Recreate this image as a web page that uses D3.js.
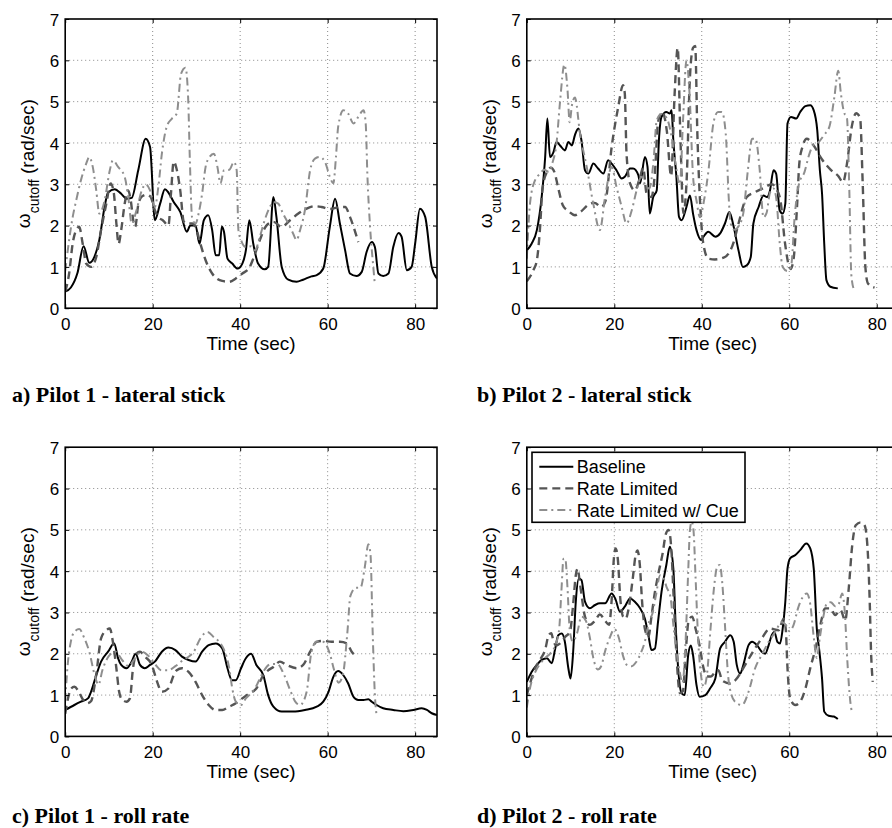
<!DOCTYPE html>
<html>
<head>
<meta charset="utf-8">
<script src="https://cdn.jsdelivr.net/npm/d3@7/dist/d3.min.js"></script>
<style>
  html, body { margin: 0; padding: 0; background: #fff; }
  svg { display: block; }
  .tick text { font-family: "Liberation Sans", Arial, Helvetica, sans-serif; font-size: 17px; fill: #000; }
</style>
</head>
<body>
<svg id="fig" width="892" height="828"></svg>
<script>
// ---- axis values ----
const timeTicks = [0, 20, 40, 60, 80];
const cutoffTicks = [0, 1, 2, 3, 4, 5, 6, 7];
const timeDomain = [0, 85];
const cutoffDomain = [0, 7];
const seriesNames = ["Baseline", "Rate Limited", "Rate Limited w/ Cue"];
const captions = ["a) Pilot 1 - lateral stick", "b) Pilot 2 - lateral stick",
                  "c) Pilot 1 - roll rate", "d) Pilot 2 - roll rate"];

// ---- Pilot 1, lateral stick: [time (sec), cutoff (rad/sec)] ----
const p1LatBaseline = [[0,0.4],[1.3,0.5],[2.8,0.85],[4.2,1.5],[5.5,1.1],[6.7,1.25],[7.8,1.65],[9,2.45],[9.8,2.8],[11.3,2.88],[12.8,2.77],[14,2.65],[15.2,2.67],[16.7,3.34],[18.4,4.1],[19.4,3.9],[20.5,2.13],[21.7,2.53],[22.8,2.88],[23.6,2.8],[24.8,2.57],[26.3,2.33],[27.8,1.85],[28.6,2.0],[29.8,2.0],[30.7,1.56],[31.7,2.13],[32.7,2.25],[33.6,1.89],[34.4,1.28],[35.2,1.28],[35.8,1.98],[36.3,1.85],[37.1,1.2],[38.2,1.08],[39.4,0.96],[40.5,1.08],[41.3,1.4],[42.1,2.13],[43,1.56],[44.1,1.08],[45.6,0.94],[46.4,1.0],[47.6,2.69],[48.3,2.2],[49.5,1.0],[51,0.69],[52.9,0.64],[54.4,0.69],[56.3,0.77],[57.5,0.8],[59,0.96],[60.5,1.97],[61.7,2.65],[62.8,2.05],[64,1.4],[65.1,0.84],[66.6,0.78],[67.8,0.88],[68.9,1.36],[70.1,1.6],[70.8,1.48],[71.6,0.84],[72.7,0.78],[73.9,0.84],[75,1.48],[76.2,1.82],[76.9,1.73],[78.1,0.92],[79.2,1.0],[80,1.56],[81.1,2.41],[82.3,2.21],[83.8,1.0],[85,0.72]];
const p1LatRateLimited = [[0,0.4],[0.9,0.84],[1.7,1.56],[2.5,1.89],[3.2,1.97],[4,1.56],[4.8,1.08],[5.9,1.0],[7.1,1.24],[8.2,1.89],[9.4,2.53],[10.4,3.02],[11.1,2.8],[11.7,2.05],[12.2,1.56],[12.8,1.89],[13.6,2.53],[14.4,2.85],[15,2.6],[15.6,2.1],[16,1.97],[16.7,2.5],[17.5,2.7],[18.6,2.75],[19.5,2.7],[20.5,2.37],[21.3,2.2],[22.3,2.13],[23.6,2.0],[24.2,2.8],[24.8,3.55],[25.4,3.4],[26.3,2.85],[27.1,2.1],[27.8,2.05],[29,2.05],[29.8,1.97],[30.9,1.56],[32.1,1.16],[33.6,0.84],[35.9,0.66],[37.5,0.64],[39,0.72],[40.5,0.84],[42.1,0.98],[43,1.2],[44.5,1.65],[46,2.0],[47.6,2.09],[49.5,1.97],[51.4,2.13],[53.3,2.29],[55.2,2.41],[57.1,2.47],[58.6,2.45],[60.5,2.4],[62.4,2.44],[64,2.45],[65.1,2.21],[67,1.6]];
const p1LatCue = [[0,0.9],[0.9,1.65],[1.7,2.2],[2.5,2.6],[3.6,3.1],[4.8,3.5],[5.5,3.66],[6.3,3.42],[7.1,2.85],[7.8,2.29],[9,2.6],[10.2,3.34],[10.9,3.58],[12.1,3.42],[13.6,3.18],[14.4,2.7],[15.2,2.05],[16.3,2.37],[17.5,2.85],[18.4,3.0],[19.4,2.85],[20.5,2.45],[21.3,2.94],[22.1,3.74],[23.2,4.39],[24.4,4.59],[25.5,4.71],[26.5,5.68],[27.5,5.82],[28.1,5.11],[28.5,3.58],[29,2.2],[29.8,2.05],[30.5,2.29],[31.3,2.77],[32.1,3.42],[33,3.66],[34,3.74],[34.8,3.42],[35.5,3.02],[36.3,3.34],[37.5,3.35],[38.6,3.54],[39.2,3.34],[39.6,1.89],[40.2,1.65],[41.3,1.48],[42.5,1.5],[43.4,1.4],[44.5,1.73],[45.6,2.13],[46.8,2.45],[47.6,2.57],[48.7,2.53],[49.8,2.29],[51,2.05],[52.1,1.81],[52.9,1.65],[53.7,1.89],[54.8,2.37],[56,3.34],[57.1,3.62],[58.2,3.66],[59.4,3.54],[60.5,3.18],[61.3,3.02],[61.9,3.66],[62.4,4.39],[63.6,4.79],[64.7,4.71],[65.9,4.47],[67,4.63],[68.2,4.79],[68.7,4.47],[69.1,3.18],[69.7,1.97],[70.5,0.92],[70.8,0.56]];

// ---- Pilot 2, lateral stick ----
const p2LatBaseline = [[0,1.4],[1.1,1.56],[2.3,1.89],[3.4,2.69],[4.2,3.66],[4.7,4.59],[5.3,3.66],[6.1,3.78],[6.8,4.02],[7.6,3.94],[8.7,3.82],[9.5,4.02],[10.3,3.94],[11,4.19],[11.8,4.35],[12.5,4.06],[13.3,3.34],[14.1,3.26],[15.2,3.5],[16.3,3.38],[17.5,3.26],[18.6,3.58],[19.4,3.5],[20.5,3.34],[21.7,3.14],[22.4,3.18],[23.6,3.38],[24.3,3.38],[25.5,3.22],[25.9,3.02],[27,3.66],[27.6,3.42],[28.1,2.29],[28.9,2.69],[29.7,2.85],[30.2,4.06],[30.8,4.63],[31.9,4.75],[32.7,4.71],[33.1,4.79],[33.5,4.06],[34.2,3.18],[34.8,2.21],[35.4,2.13],[36.5,2.45],[37.3,2.73],[38,2.29],[38.8,1.89],[39.9,1.65],[40.4,1.73],[41.5,1.85],[43.1,1.73],[44.2,1.81],[45.3,2.05],[46.3,2.33],[47.3,1.97],[48.4,1.4],[49.4,1.0],[50.3,1.04],[51.2,1.24],[51.8,2.05],[53,2.45],[54.1,2.73],[54.9,2.69],[55.6,2.85],[56.4,3.34],[57,3.26],[57.8,2.37],[58.5,2.29],[59.1,2.53],[59.6,4.47],[60.4,4.63],[61.6,4.59],[62.5,4.75],[63.7,4.89],[64.8,4.91],[65.6,4.79],[66.4,4.31],[67,3.34],[67.5,2.77],[68,1.56],[68.5,0.68],[69.4,0.52],[71.1,0.48]];
const p2LatRateLimited = [[0,0.65],[1.5,0.92],[2.3,1.16],[3,1.9],[3.6,2.9],[4.6,3.3],[5.5,3.4],[6.3,3.3],[7.2,2.9],[8.2,2.5],[9.5,2.35],[11,2.25],[12.5,2.35],[14,2.5],[15.5,2.55],[17,2.45],[18,2.6],[19.4,3.9],[20.9,4.87],[22,5.4],[22.4,5.2],[22.8,3.74],[23.6,3.02],[24.7,2.85],[25.9,3.18],[26.6,3.4],[27.4,2.77],[28.5,2.69],[29.3,3.3],[30,4.5],[31,4.75],[32,4.3],[33,3.2],[33.8,5.2],[34.5,6.3],[35.1,4.2],[35.8,2.3],[36.5,3.0],[37.3,5.6],[38,6.3],[38.5,6.35],[39,4.2],[39.6,2.6],[40.3,1.6],[41.5,1.2],[43,1.18],[45.3,1.24],[47.3,1.6],[48.4,2.05],[50.3,2.69],[52,2.8],[54,2.9],[56,3.0],[57,2.9],[58,2.6],[59,1.6],[60.3,0.95],[61,1.2],[61.8,2.5],[62.3,3.5],[63,3.9],[64,4.1],[65.5,3.95],[67.5,3.6],[69.5,3.35],[71.2,3.2],[72.3,3.05],[73.2,3.5],[74.3,4.4],[75.3,4.72],[76.2,4.6],[76.8,3.0],[77.4,1.0],[78,0.6],[79.5,0.5]];
const p2LatCue = [[0,1.2],[0.8,2.6],[1.9,3.1],[3,3.25],[4,3.35],[5,3.3],[5.8,3.5],[6.8,4.0],[7.6,5.0],[8.6,5.9],[9.3,5.3],[9.8,4.5],[10.3,4.9],[11,5.1],[12.2,4.2],[13.7,3.42],[15.2,2.53],[16.7,1.89],[17.9,2.69],[19.4,3.42],[20.5,2.94],[21.7,2.45],[22.8,2.05],[24,2.37],[25.1,2.85],[26.2,3.18],[27,3.0],[28,2.9],[29,3.6],[29.7,4.55],[30.8,4.7],[32,4.6],[33.1,4.15],[34,3.5],[35,3.0],[35.7,4.5],[36.5,6.0],[37.2,5.2],[38,3.2],[38.8,2.6],[39.6,2.2],[40.5,2.6],[41.5,3.3],[42.7,4.5],[43.7,4.75],[44.6,4.75],[45.5,4.2],[46.2,2.6],[46.6,2.05],[47.5,1.9],[48.5,2.0],[49.5,2.3],[50.5,3.3],[51.5,4.1],[52.3,4.1],[53.2,3.4],[54.1,2.2],[54.8,2.3],[55.6,2.8],[56.4,2.9],[57.1,2.6],[57.8,1.6],[58.5,1.0],[59.6,0.9],[60.4,1.0],[61.3,2.3],[62.2,3.0],[63.5,3.3],[64.5,3.7],[65.5,3.95],[66.5,4.0],[68,4.2],[69.2,4.4],[70.3,5.1],[71.2,5.75],[71.8,5.2],[72.5,4.75],[73.2,4.6],[73.7,3.0],[74.2,0.8],[74.8,0.45]];

// ---- Pilot 1, roll rate ----
const p1RollBaseline = [[0,0.64],[2.1,0.76],[3.6,0.84],[5.2,0.92],[5.9,1.08],[7.1,1.48],[8.2,1.81],[9.8,2.05],[11.2,2.25],[12.1,1.89],[12.8,1.73],[14,1.65],[15.2,1.81],[16.1,2.0],[17.1,1.73],[18.2,1.65],[19.4,1.73],[20.5,1.81],[22.1,2.05],[23.6,2.15],[25.2,2.09],[26.7,1.93],[28.2,1.85],[29.8,1.81],[31.3,2.05],[32.8,2.21],[34.4,2.25],[35.9,2.13],[37.1,1.65],[38.1,1.36],[39,1.36],[40.2,1.65],[41.3,1.89],[42.5,2.0],[43.7,1.73],[45.3,1.48],[46.4,1.0],[47.6,0.72],[49.5,0.6],[52.1,0.6],[54.8,0.64],[57.5,0.72],[59,0.84],[60.2,1.08],[61.3,1.44],[62.4,1.58],[63.6,1.48],[64.7,1.28],[65.9,0.96],[67,0.88],[68.2,0.88],[69.3,0.9],[70.1,0.84],[71.2,0.76],[72.7,0.68],[75,0.64],[77.3,0.61],[79.6,0.64],[81.5,0.68],[82.7,0.64],[83.8,0.56],[85,0.52]];
const p1RollRateLimited = [[0,0.55],[0.6,0.9],[1.3,1.15],[2.1,1.2],[3,1.1],[4,0.9],[5,0.8],[5.9,0.85],[7.1,1.5],[8.2,2.37],[9.4,2.57],[10.2,2.61],[10.9,2.29],[11.7,1.65],[12.3,1.1],[12.8,0.92],[14,0.84],[14.8,0.92],[15.5,1.65],[16.3,2.0],[17.1,2.05],[18.2,1.93],[19.8,1.73],[20.9,1.36],[22.1,1.08],[23.6,1.16],[24.8,1.48],[25.5,1.6],[26.7,1.65],[28.2,1.56],[29.8,1.32],[31.3,1.0],[32.8,0.76],[34.4,0.64],[35.9,0.64],[37.5,0.72],[39,0.8],[40.5,0.92],[42.1,1.04],[43.7,1.16],[45.3,1.48],[46.4,1.6],[47.6,1.68],[49.1,1.81],[50.6,1.73],[52.9,1.65],[54.4,1.73],[56,2.05],[57.5,2.29],[59,2.31],[60.9,2.29],[62.8,2.29],[64.4,2.25],[65.5,2.05],[66.6,1.93]];
const p1RollCue = [[0,0.85],[0.5,1.65],[1.3,2.3],[2.1,2.53],[3.2,2.6],[4.4,2.37],[5.5,2.05],[6.7,1.5],[7.6,1.25],[8.5,1.6],[10,1.95],[11.5,2.05],[13,1.85],[14.5,1.7],[16,1.9],[17.5,2.05],[19,1.95],[20.5,1.75],[22,1.6],[23.5,1.6],[25.2,1.7],[27,1.85],[28.5,1.95],[29.4,2.05],[30.9,2.37],[32.5,2.53],[34,2.4],[35.2,2.29],[36.3,2.1],[37.5,1.65],[38.2,1.16],[39,0.84],[40.2,0.76],[41.3,0.92],[42.8,1.08],[43.6,1.2],[44.5,1.4],[45.5,1.6],[47,1.75],[48.5,1.75],[50,1.5],[51.5,1.1],[52.6,0.84],[53.7,0.76],[55.2,1.08],[56.3,2.05],[57.5,2.3],[59,2.29],[60.5,2.0],[61.5,1.6],[62.5,1.3],[63.5,1.5],[64.5,2.5],[65.2,3.4],[66.5,3.6],[67.5,3.6],[68.5,4.1],[69.3,4.65],[69.8,4.4],[70.3,2.5],[70.8,1.0],[71.2,0.5]];

// ---- Pilot 2, roll rate ----
const p2RollBaseline = [[0,1.32],[1.1,1.56],[2.3,1.73],[3.4,1.85],[4.6,1.89],[5.7,1.77],[6.5,2.13],[7.2,2.45],[8,2.49],[8.7,2.29],[9.5,1.65],[10,1.4],[10.6,2.05],[11.2,3.26],[11.9,3.82],[12.5,3.78],[13.3,3.26],[14.4,3.1],[15.6,3.18],[16.7,3.22],[17.9,3.22],[19.4,3.46],[20.2,3.34],[21.3,3.02],[22.4,3.14],[23.6,3.34],[24.7,3.26],[25.9,3.1],[27,2.85],[27.8,2.45],[28.5,2.09],[29.3,2.13],[30,2.77],[30.8,3.5],[31.9,4.15],[32.7,4.59],[33.5,4.06],[34,2.77],[34.6,1.65],[35.4,1.04],[36.1,1.0],[36.9,1.97],[37.5,2.2],[38,1.97],[38.8,1.24],[39.5,0.96],[40.8,1.0],[41.9,1.16],[43.1,1.4],[44.2,2.13],[45.3,2.29],[46.5,2.45],[47.3,2.29],[48,1.73],[48.8,1.52],[49.5,1.73],[50.7,2.21],[51.5,2.29],[52.6,2.21],[53.7,2.05],[54.5,2.0],[55.3,2.21],[56,2.45],[56.6,2.53],[57.3,2.29],[57.9,2.25],[58.5,2.61],[59.1,3.26],[59.6,4.06],[60.2,4.31],[61.4,4.39],[62.5,4.51],[63.9,4.67],[64.8,4.55],[65.6,4.06],[66.3,2.61],[66.9,2.05],[67.5,1.4],[68,0.6],[69,0.5],[70.2,0.48],[71.1,0.42]];
const p2RollRateLimited = [[0,1.0],[0.8,1.3],[1.9,1.65],[3,1.85],[4.2,2.1],[5,2.45],[5.6,2.5],[6.1,2.3],[6.8,2.2],[7.6,2.25],[8.7,2.4],[9.9,2.55],[10.6,3.2],[11.2,3.9],[11.6,4.06],[12.2,3.66],[13.3,2.9],[14.4,2.7],[15.6,2.8],[16.7,2.95],[17.9,2.8],[18.8,2.7],[19.4,3.3],[19.9,4.3],[20.3,4.55],[20.8,4.3],[21.4,3.3],[22,2.9],[22.6,2.85],[23.3,3.1],[24.2,3.8],[24.9,4.4],[25.3,4.5],[25.8,4.2],[26.4,3.2],[27,2.6],[27.8,2.4],[28.5,2.9],[29.3,3.5],[30,3.9],[31,4.4],[31.8,4.9],[32.4,5.0],[33,4.6],[33.6,3.3],[34.2,2.0],[35,1.05],[35.7,1.1],[36.3,2.0],[37,2.8],[37.8,2.9],[38.6,2.6],[39.5,2.2],[40.3,1.7],[41.2,1.45],[42.1,1.45],[43,1.55],[43.8,1.6],[44.7,1.35],[46.5,1.28],[48,1.4],[49.2,1.6],[50.3,1.8],[52,2.1],[53.7,2.37],[55.6,2.61],[57.6,2.57],[58.7,2.85],[59.2,2.6],[59.6,1.65],[60.2,0.92],[61.4,0.76],[62.5,0.84],[63.7,1.16],[64.8,1.65],[66,2.13],[67.1,2.69],[68.2,3.1],[69.4,3.1],[70.5,2.94],[71.7,3.06],[72.8,2.81],[73.6,3.58],[74.4,4.63],[75.2,5.11],[76.3,5.18],[77.2,5.11],[77.8,4.71],[78.4,3.26],[78.7,2.05],[79.1,1.32]];
const p2RollCue = [[0,0.7],[0.8,1.2],[1.9,1.55],[3,1.75],[4.2,1.9],[5.3,2.0],[6.5,2.2],[7.4,2.6],[7.9,3.5],[8.4,4.3],[8.8,4.3],[9.3,3.6],[9.8,2.6],[10.5,2.3],[11.5,2.5],[12.5,2.9],[13.5,2.8],[14.4,2.4],[15.2,1.9],[16.2,1.62],[17,1.7],[18,2.1],[19,2.4],[20,2.6],[21,2.4],[22,1.95],[23,1.72],[24,1.7],[25,1.8],[26,2.0],[27,2.3],[28,2.8],[28.8,3.0],[29.5,3.4],[30.5,3.9],[31.2,3.85],[32,3.6],[32.8,3.4],[33.6,2.6],[34.3,2.0],[34.9,1.6],[35.6,1.3],[36.3,2.3],[36.9,4.0],[37.3,5.0],[37.7,5.2],[38.1,5.0],[38.6,3.8],[39.2,2.3],[39.8,1.5],[40.5,1.2],[41.2,1.5],[42,2.6],[42.8,3.6],[43.5,4.1],[44.1,4.15],[44.7,3.7],[45.3,2.7],[46,1.5],[46.8,1.0],[47.6,0.84],[49.2,0.76],[50.7,1.08],[52.2,1.65],[53.7,1.97],[55.3,2.29],[56.8,2.53],[58.3,2.77],[59.2,2.7],[60,2.55],[61,2.7],[62,3.1],[62.9,3.34],[64,3.46],[64.8,3.2],[65.6,2.4],[66.3,1.9],[67,2.4],[67.8,2.9],[68.5,3.2],[69.5,3.25],[70.5,3.15],[71.3,3.2],[72.1,3.46],[72.7,3.0],[73.3,1.8],[73.9,0.9],[74.4,0.55]];

// ---- layout ----
const plotW = 371.8, plotH = 289.2;
const colX = [65.2, 526.8];
const rowY = [19, 447.2];
const captionX = [12, 477];
const captionY = [402, 823];

const lineStyles = [
  { stroke: "#000000", width: 2.0, dash: null },
  { stroke: "#555555", width: 2.4, dash: "8,5" },
  { stroke: "#8e8e8e", width: 2.0, dash: "8,4,2,4" }
];

const panels = [
  { row: 0, col: 0, caption: captions[0], series: [p1LatBaseline, p1LatRateLimited, p1LatCue] },
  { row: 0, col: 1, caption: captions[1], series: [p2LatBaseline, p2LatRateLimited, p2LatCue] },
  { row: 1, col: 0, caption: captions[2], series: [p1RollBaseline, p1RollRateLimited, p1RollCue] },
  { row: 1, col: 1, caption: captions[3], series: [p2RollBaseline, p2RollRateLimited, p2RollCue], legend: true }
];

const svg = d3.select("#fig");
const sans = '"Liberation Sans", Arial, Helvetica, sans-serif';
const serif = '"Liberation Serif", "Times New Roman", Times, serif';
const intFmt = d3.format("d");

panels.forEach((p, i) => {
  const x = d3.scaleLinear().domain(timeDomain).range([0, plotW]);
  const y = d3.scaleLinear().domain(cutoffDomain).range([plotH, 0]);
  const g = svg.append("g").attr("transform", `translate(${colX[p.col]},${rowY[p.row]})`);

  // dotted grid
  const grid = g.append("g").attr("stroke", "#8a8a8a").attr("stroke-width", 1)
    .attr("stroke-dasharray", "1,3");
  grid.selectAll("line.gx").data(timeTicks.filter(t => t > 0)).join("line")
    .attr("x1", d => x(d)).attr("x2", d => x(d)).attr("y1", 0).attr("y2", plotH);
  grid.selectAll("line.gy").data(cutoffTicks.filter(v => v > 0 && v < 7)).join("line")
    .attr("x1", 0).attr("x2", plotW).attr("y1", d => y(d)).attr("y2", d => y(d));

  // series
  const clipId = "clip" + i;
  g.append("clipPath").attr("id", clipId).append("rect")
    .attr("x", 0).attr("y", 0).attr("width", plotW).attr("height", plotH);
  const line = d3.line().x(d => x(d[0])).y(d => y(d[1])).curve(d3.curveMonotoneX);
  const lines = g.append("g").attr("clip-path", `url(#${clipId})`);
  p.series.forEach((s, k) => {
    const st = lineStyles[k];
    lines.append("path").datum(s).attr("d", line)
      .attr("fill", "none").attr("stroke", st.stroke).attr("stroke-width", st.width)
      .attr("stroke-dasharray", st.dash).attr("stroke-linejoin", "round");
  });

  // axes (ticks pointing inward, box on all four sides)
  const xb = g.append("g").attr("transform", `translate(0,${plotH})`)
    .call(d3.axisBottom(x).tickValues(timeTicks).tickFormat(intFmt)
      .tickSize(-4).tickPadding(10).tickSizeOuter(0));
  const yl = g.append("g")
    .call(d3.axisLeft(y).tickValues(cutoffTicks).tickFormat(intFmt)
      .tickSize(-4).tickPadding(6).tickSizeOuter(0));
  g.append("g").call(d3.axisTop(x).tickValues(timeTicks).tickSize(-4).tickFormat("").tickSizeOuter(0));
  g.append("g").attr("transform", `translate(${plotW},0)`)
    .call(d3.axisRight(y).tickValues(cutoffTicks).tickSize(-4).tickFormat("").tickSizeOuter(0));
  g.selectAll(".domain").attr("stroke", "none");
  g.selectAll(".tick line").attr("stroke", "#000").attr("stroke-width", 1);
  xb.selectAll(".tick text").attr("dy", "0.71em");
  yl.selectAll(".tick text").attr("dy", "0.36em");

  g.append("rect").attr("x", 0).attr("y", 0).attr("width", plotW).attr("height", plotH)
    .attr("fill", "none").attr("stroke", "#000").attr("stroke-width", 1.6);

  // axis titles
  g.append("text").attr("x", plotW / 2).attr("y", plotH + 42)
    .attr("text-anchor", "middle").attr("font-family", sans).attr("font-size", 19)
    .text("Time (sec)");

  const yt = g.append("text")
    .attr("transform", `translate(${-31},${plotH / 2}) rotate(-90)`)
    .attr("text-anchor", "middle").attr("font-family", sans).attr("font-size", 19);
  yt.append("tspan").attr("dy", -4).text("ω");
  yt.append("tspan").attr("dy", 9).attr("font-size", 14).text("cutoff");
  yt.append("tspan").attr("dy", -5).text(" (rad/sec)");

  // caption
  svg.append("text").attr("x", captionX[p.col]).attr("y", captionY[p.row])
    .attr("font-family", serif).attr("font-weight", "bold").attr("font-size", 22)
    .text(p.caption);

  // legend
  if (p.legend) {
    const lg = g.append("g").attr("transform", "translate(5.2,5.1)");
    lg.append("rect").attr("width", 213).attr("height", 70)
      .attr("fill", "#fff").attr("stroke", "#000").attr("stroke-width", 1.6);
    seriesNames.forEach((name, k) => {
      const cy = 14.4 + k * 21.7;
      const st = lineStyles[k];
      lg.append("line").attr("x1", 7.3).attr("x2", 41.3).attr("y1", cy).attr("y2", cy)
        .attr("stroke", st.stroke).attr("stroke-width", st.width).attr("stroke-dasharray", st.dash);
      lg.append("text").attr("x", 44.7).attr("y", cy).attr("dy", "0.36em")
        .attr("font-family", sans).attr("font-size", 18).text(name);
    });
  }
});
</script>
</body>
</html>
